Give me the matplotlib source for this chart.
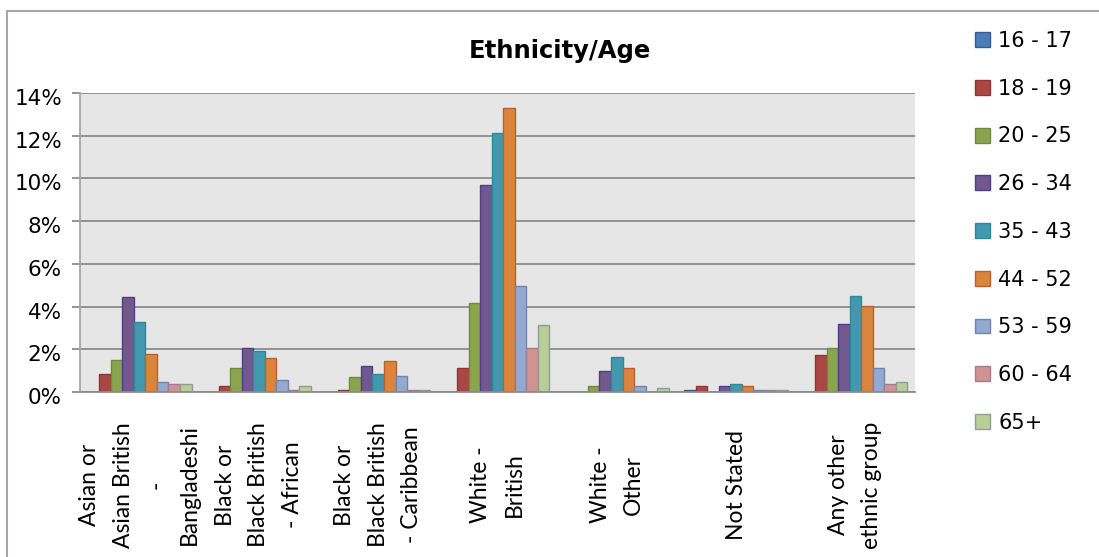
import matplotlib
matplotlib.use('Agg')
import matplotlib.pyplot as plt
import matplotlib.transforms as mtransforms
from matplotlib.lines import Line2D
from matplotlib.patches import Patch
from matplotlib.ticker import PercentFormatter
import numpy as np

# Share of staff (%) per ethnic group, split by age band
groups = ["Asian or\nAsian British\n-\nBangladeshi",
          "Black or\nBlack British\n- African",
          "Black or\nBlack British\n- Caribbean",
          "White -\nBritish",
          "White -\nOther",
          "Not Stated",
          "Any other\nethnic group"]
ages = ['16 - 17', '18 - 19', '20 - 25', '26 - 34', '35 - 43',
        '44 - 52', '53 - 59', '60 - 64', '65+']

age_16_17 = [0.00, 0.00, 0.00, 0.00, 0.00, 0.10, 0.00]
age_18_19 = [0.86, 0.30, 0.10, 1.14, 0.00, 0.30, 1.71]
age_20_25 = [1.52, 1.14, 0.68, 4.15, 0.30, 0.00, 2.08]
age_26_34 = [4.43, 2.08, 1.24, 9.67, 0.96, 0.30, 3.20]
age_35_43 = [3.29, 1.90, 0.86, 12.13, 1.63, 0.39, 4.50]
age_44_52 = [1.80, 1.61, 1.43, 13.30, 1.14, 0.30, 4.04]
age_53_59 = [0.49, 0.58, 0.75, 4.98, 0.30, 0.10, 1.14]
age_60_64 = [0.38, 0.11, 0.10, 2.08, 0.00, 0.10, 0.39]
age_65_up = [0.38, 0.30, 0.10, 3.12, 0.20, 0.10, 0.49]

series = [age_16_17, age_18_19, age_20_25, age_26_34, age_35_43,
          age_44_52, age_53_59, age_60_64, age_65_up]

fills = ['#4A7EBB', '#AA4643', '#89A54E', '#71588F', '#4198AF',
         '#DB843D', '#93A9CF', '#D19392', '#B9CD96']
edges = ['#385D8A', '#8C3836', '#71893F', '#4F3F86', '#2E8A96',
         '#B6622A', '#7482B0', '#A07C94', '#8E9C9A']

W, H = 1099, 557
fig = plt.figure(figsize=(W / 100, H / 100), dpi=100)
fig.patch.set_facecolor('white')

# chart border (runs off the right and bottom edges)
fig.add_artist(Line2D([7 / W, 1], [1 - 11 / H, 1 - 11 / H], color='#A6A6A6', lw=1.5))
fig.add_artist(Line2D([7 / W, 7 / W], [0, 1 - 11 / H], color='#A6A6A6', lw=1.5))

ax = fig.add_axes([80 / W, (H - 392) / H, 835 / W, 299 / H])
ax.set_facecolor('#E6E6E6')

x = np.arange(len(groups))
n = len(series)
bw = 0.87 / n
for i, vals in enumerate(series):
    ax.bar(x + (i - (n - 1) / 2) * bw, vals, width=bw, color=fills[i],
           edgecolor=edges[i], linewidth=1, zorder=2)

ax.set_xlim(-0.5, len(groups) - 0.5)
ax.set_ylim(0, 14)
ax.set_yticks(np.arange(0, 15, 2))
ax.yaxis.set_major_formatter(PercentFormatter(xmax=100, decimals=0))
ax.yaxis.grid(True, color='#8C8C8C', lw=1.3, zorder=1)
ax.set_axisbelow(True)

for side in ['top', 'right']:
    ax.spines[side].set_visible(False)
ax.spines['left'].set_color('#A6A6A6')
ax.spines['bottom'].set_color('#8C8C8C')
ax.spines['left'].set_linewidth(1.3)
ax.spines['bottom'].set_linewidth(1.3)

ax.tick_params(axis='y', length=6, width=1.3, color='#8C8C8C', pad=7,
               labelsize=15.5, labelfontfamily='DejaVu Sans')
ax.tick_params(axis='x', length=0, labelbottom=False)

# shift the percent labels a touch below their gridlines
shift = mtransforms.ScaledTranslation(0, -4 / 100, fig.dpi_scale_trans)
for lab in ax.get_yticklabels():
    lab.set_transform(lab.get_transform() + shift)

# rotated, wrapped category labels
lab_trans = mtransforms.blended_transform_factory(ax.transData, fig.transFigure)
for xi, name in zip(x, groups):
    ax.text(xi, 1 - 485 / H, name, transform=lab_trans, rotation=90,
            ha='center', va='center', multialignment='center',
            fontsize=16.5, family='Lato', linespacing=1.72, clip_on=False)

fig.text(559.5 / W, 1 - 51 / H, 'Ethnicity/Age', ha='center', va='center',
         fontsize=17.5, fontweight='bold', family='DejaVu Sans')

handles = [Patch(facecolor=f, edgecolor=e, linewidth=1) for f, e in zip(fills, edges)]
fig.legend(handles, ages, loc='upper left', bbox_to_anchor=(975 / W, 1 - 31 / H),
           frameon=False, borderpad=0, borderaxespad=0,
           prop={'family': 'DejaVu Sans', 'size': 15},
           handlelength=0.72, handleheight=0.72, handletextpad=0.4,
           labelspacing=1.33)

fig.savefig('out.png', dpi=100)
